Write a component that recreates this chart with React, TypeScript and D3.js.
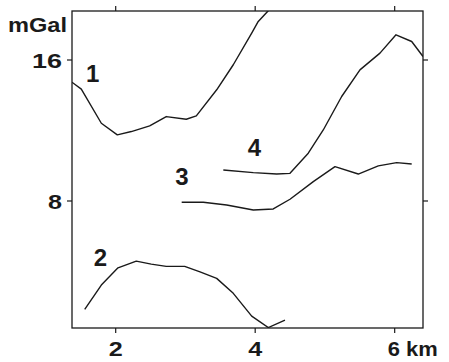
import React from "react";
import * as d3 from "d3";

const xTicks = [2, 4, 6];
const yTicks = [8, 16];
const xTickLabels = ["2", "4", "6 km"];
const yTickLabels = ["8", "16"];
const yUnit = "mGal";

const curve1X = [1.373, 1.507, 1.794, 2.023, 2.224, 2.487, 2.725, 3.012, 3.156, 3.448, 3.686, 3.95, 4.044, 4.188];
const curve1Y = [14.74, 14.35, 12.41, 11.75, 11.94, 12.26, 12.79, 12.64, 12.83, 14.31, 15.73, 17.53, 18.19, 18.8];

const curve2X = [1.556, 1.794, 2.033, 2.295, 2.51, 2.725, 2.989, 3.209, 3.448, 3.686, 3.95, 4.188, 4.427];
const curve2Y = [1.85, 3.23, 4.21, 4.59, 4.42, 4.29, 4.29, 3.98, 3.61, 2.76, 1.47, 0.82, 1.24];

const curve3X = [2.946, 3.256, 3.591, 3.973, 4.259, 4.499, 4.833, 5.144, 5.478, 5.765, 6.029, 6.244];
const curve3Y = [7.93, 7.93, 7.77, 7.49, 7.55, 8.1, 9.1, 9.95, 9.53, 9.99, 10.18, 10.1];

const curve4X = [3.543, 3.973, 4.308, 4.499, 4.761, 4.976, 5.24, 5.502, 5.789, 6.019, 6.244, 6.406];
const curve4Y = [9.76, 9.61, 9.53, 9.57, 10.71, 12.03, 13.93, 15.44, 16.39, 17.43, 17.05, 16.2];

const curveNames = ["1", "2", "3", "4"];
const curveLabelX = [1.67, 1.78, 2.95, 3.99];
const curveLabelY = [14.75, 4.3, 8.9, 10.55];

const W = 449;
const H = 362;
const left = 72, right = 423, top = 11, bottom = 328;

export default function App() {
  const x = d3.scaleLinear().domain([1.3735, 6.406]).range([left, right]);
  const y = d3.scaleLinear().domain([0.794, 18.78]).range([bottom, top]);
  const line = d3
    .line<[number, number]>()
    .x((d) => x(d[0]))
    .y((d) => y(d[1]));
  const curves = [
    [curve1X, curve1Y],
    [curve2X, curve2Y],
    [curve3X, curve3Y],
    [curve4X, curve4Y],
  ].map(([xs, ys]) => xs.map((v, i) => [v, ys[i]] as [number, number]));

  const stroke = "#1a1a1a";
  const font = "'Liberation Sans', Arial, sans-serif";
  const tickLen = 5;

  return (
    <div style={{ position: "absolute", left: 0, top: 0 }}>
      <svg width={W} height={H} style={{ display: "block", background: "#fff" }}>
        <defs>
          <clipPath id="plotClip">
            <rect x={left} y={top} width={right - left} height={bottom - top} />
          </clipPath>
        </defs>
        <rect x={left} y={top} width={right - left} height={bottom - top} fill="none" stroke={stroke} strokeWidth={1.3} />
        {xTicks.map((t) => (
          <g key={"xt" + t}>
            <line x1={x(t)} x2={x(t)} y1={bottom} y2={bottom + tickLen} stroke={stroke} strokeWidth={1.2} />
            <line x1={x(t)} x2={x(t)} y1={top} y2={top - tickLen} stroke={stroke} strokeWidth={1.2} />
          </g>
        ))}
        {yTicks.map((t) => (
          <g key={"yt" + t}>
            <line x1={left} x2={left - tickLen} y1={y(t)} y2={y(t)} stroke={stroke} strokeWidth={1.2} />
            <line x1={right} x2={right + tickLen} y1={y(t)} y2={y(t)} stroke={stroke} strokeWidth={1.2} />
          </g>
        ))}
        <g clipPath="url(#plotClip)">
          {curves.map((c, i) => (
            <path key={"c" + i} d={line(c) || ""} fill="none" stroke={stroke} strokeWidth={1.4} strokeLinejoin="round" />
          ))}
        </g>
        {xTickLabels.map((lab, i) => (
          <text
            key={"xl" + i}
            x={i === 2 ? x(xTicks[i]) - 7 : x(xTicks[i])}
            y={356}
            textAnchor={i === 2 ? "start" : "middle"}
            fontFamily={font}
            fontSize={21}
            fontWeight="bold"
            fill={stroke}
            textLength={i === 2 ? 50 : 14}
            lengthAdjust="spacingAndGlyphs"
          >
            {lab}
          </text>
        ))}
        {yTickLabels.map((lab, i) => (
          <text
            key={"yl" + i}
            x={62}
            y={y(yTicks[i]) + 8}
            textAnchor="end"
            fontFamily={font}
            fontSize={21}
            fontWeight="bold"
            fill={stroke}
            textLength={lab.length === 1 ? 14 : 30}
            lengthAdjust="spacingAndGlyphs"
          >
            {lab}
          </text>
        ))}
        <text x={8} y={32} fontFamily={font} fontSize={20} fontWeight="bold" fill={stroke} textLength={59} lengthAdjust="spacingAndGlyphs">
          {yUnit}
        </text>
        {curveNames.map((n, i) => (
          <text
            key={"n" + i}
            x={x(curveLabelX[i])}
            y={y(curveLabelY[i])}
            textAnchor="middle"
            fontFamily={font}
            fontSize={24}
            fontWeight="bold"
            fill={stroke}
          >
            {n}
          </text>
        ))}
      </svg>
    </div>
  );
}
